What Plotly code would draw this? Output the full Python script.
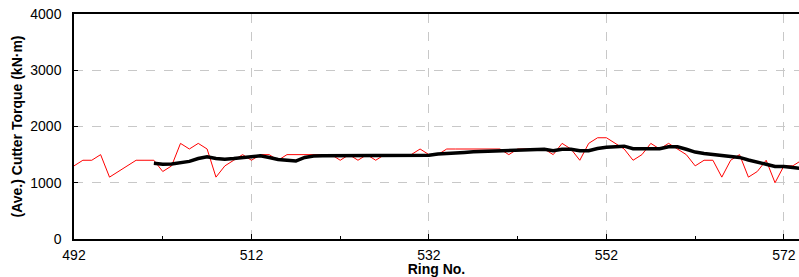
import plotly.graph_objects as go

rings = list(range(492, 575))
torque = [1300, 1400, 1400, 1500, 1100, 1200, 1300, 1400, 1400, 1400,
          1200, 1300, 1700, 1600, 1700, 1600, 1100, 1300, 1400, 1500,
          1400, 1500, 1500, 1400, 1500, 1500, 1500, 1500, 1500, 1500,
          1400, 1500, 1400, 1500, 1400, 1500, 1500, 1500, 1500, 1600,
          1500, 1500, 1600, 1600, 1600, 1600, 1600, 1600, 1600, 1500,
          1600, 1600, 1600, 1600, 1500, 1700, 1600, 1400, 1700, 1800,
          1800, 1700, 1600, 1400, 1500, 1700, 1600, 1700, 1600, 1500,
          1300, 1400, 1400, 1100, 1400, 1500, 1100, 1200, 1400, 1000,
          1300, 1300, 1400]

avg_rings = list(range(501, 575))
avg_torque = [1345, 1330, 1335, 1360, 1380, 1430, 1460, 1430, 1420, 1430,
              1450, 1460, 1480, 1450, 1415, 1400, 1385, 1450, 1475, 1480,
              1480, 1480, 1480, 1480, 1480, 1480, 1480, 1480, 1480, 1480,
              1480, 1490, 1510, 1515, 1530, 1540, 1550, 1555, 1570, 1570,
              1570, 1580, 1595, 1595, 1595, 1570, 1595, 1595, 1570, 1570,
              1610, 1630, 1640, 1650, 1605, 1605, 1605, 1605, 1640, 1640,
              1595, 1545, 1520, 1505, 1475, 1465, 1450, 1405, 1360, 1330,
              1290, 1290, 1270, 1255]

x_ticks = [492, 512, 532, 552, 572]
y_ticks = [0, 1000, 2000, 3000, 4000]

fig = go.Figure()
fig.add_trace(go.Scatter(x=rings, y=torque, mode="lines",
                         line=dict(color="#ff0000", width=1), showlegend=False))
fig.add_trace(go.Scatter(x=avg_rings, y=avg_torque, mode="lines",
                         line=dict(color="#000000", width=3.5), showlegend=False))

font = dict(family="Liberation Sans, Arial, sans-serif", size=14, color="#000")
fig.update_layout(
    width=799, height=277,
    margin=dict(l=74, r=0, t=14, b=38),
    paper_bgcolor="white", plot_bgcolor="white",
    font=font,
    xaxis=dict(range=[492, 573.7], tickmode="array", tickvals=x_ticks,
               ticktext=[str(v) for v in x_ticks], automargin=False,
               showline=True, linecolor="#000", linewidth=1.5, mirror=True,
               ticks="inside", ticklen=5, tickcolor="#000",
               minor=dict(ticks="inside", ticklen=3, dtick=10, tick0=492, tickcolor="#000"),
               showgrid=True, gridcolor="#c8c8c8", griddash="dash", gridwidth=1,
               zeroline=False, ticklabelstandoff=2,
               title=dict(text="<b>Ring No.</b>", standoff=0, font=dict(size=14))),
    yaxis=dict(range=[0, 4000], tickmode="array", tickvals=y_ticks, automargin=False,
               showline=True, linecolor="#000", linewidth=1.5, mirror=False,
               ticks="inside", ticklen=4, tickcolor="#000",
               showgrid=True, gridcolor="#c8c8c8", griddash="dash", gridwidth=1,
               zeroline=False, ticklabelstandoff=8,
               title=dict(text="<b>(Ave.) Cutter Torque (kN·m)</b>", standoff=4,
                          font=dict(size=14))),
)

fig.write_html("out.html", config={"displayModeBar": False},
               post_script="document.body.style.margin='0';document.body.style.padding='0';")
